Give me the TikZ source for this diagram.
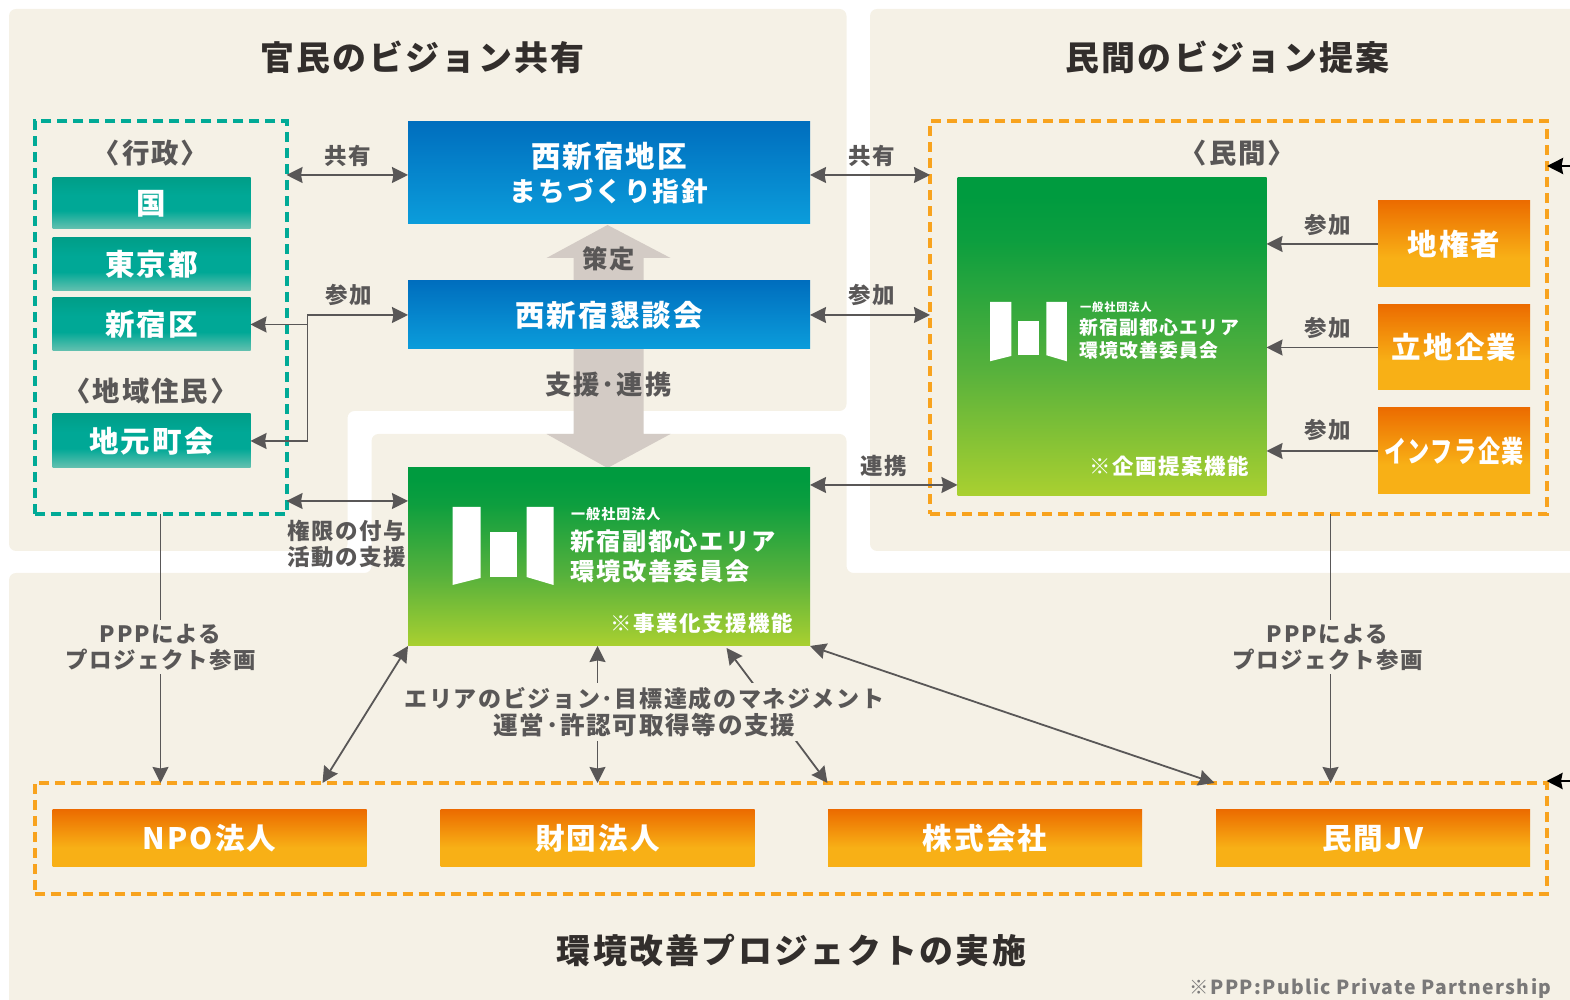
\documentclass[tikz,border=0pt]{standalone}
\usepackage{graphicx}
\usepackage{fontspec}
\setmainfont{Noto Sans CJK JP}[LetterSpace=7]
\usetikzlibrary{arrows.meta}
\definecolor{Fondo}{RGB}{245, 241, 230}
\definecolor{Gris}{RGB}{89, 87, 87}
\definecolor{Tinta}{RGB}{50, 46, 44}
\definecolor{Flecha}{RGB}{211, 203, 197}
\definecolor{TealA}{RGB}{0, 158, 136}
\definecolor{TealB}{RGB}{0, 168, 150}
\definecolor{TealC}{RGB}{102, 193, 176}
\definecolor{BlueA}{RGB}{0, 110, 190}
\definecolor{BlueB}{RGB}{11, 157, 219}
\definecolor{GreenA}{RGB}{0, 155, 63}
\definecolor{GreenB}{RGB}{86, 177, 60}
\definecolor{GreenC}{RGB}{170, 208, 48}
\definecolor{OrangeA}{RGB}{236, 108, 0}
\definecolor{OrangeB}{RGB}{248, 176, 22}
\definecolor{DashTeal}{RGB}{0, 170, 150}
\definecolor{DashOrange}{RGB}{248, 163, 30}
\pgfdeclareverticalshading{tealfade}{100bp}{color(0bp)=(TealC); color(25bp)=(TealC); color(43bp)=(TealB); color(58bp)=(TealB); color(75bp)=(TealA); color(100bp)=(TealA)}
\pgfdeclareverticalshading{bluefade}{100bp}{color(0bp)=(BlueB); color(25bp)=(BlueB); color(75bp)=(BlueA); color(100bp)=(BlueA)}
\pgfdeclareverticalshading{greenfade}{100bp}{color(0bp)=(GreenC); color(25bp)=(GreenC); color(45bp)=(GreenB); color(65bp)=(GreenA!85!GreenB); color(72bp)=(GreenA); color(100bp)=(GreenA)}
\pgfdeclareverticalshading{orangefade}{100bp}{color(0bp)=(OrangeB); color(25bp)=(OrangeB); color(42bp)=(OrangeB); color(75bp)=(OrangeA); color(100bp)=(OrangeA)}
\tikzset{
	>={Stealth[length=0.16cm,width=0.16cm,inset=0.015cm]},
	panel/.style={fill=Fondo,rounded corners=0.07cm},
	caja/.style={inner sep=0,outer sep=0,text=white,align=center,font=\bfseries\fontsize{8.4}{9.8}\selectfont},
	tealbox/.style={caja,shading=tealfade,minimum width=1.98cm},
	bluebox/.style={caja,shading=bluefade,minimum width=4.02cm},
	greenbox/.style={caja,shading=greenfade},
	orangebox/.style={caja,shading=orangefade},
	marco/.style={inner sep=0,outer sep=0,line width=0.04cm,dash pattern=on 0.1cm off 0.06cm},
	midashi/.style={text=Tinta,font=\bfseries\fontsize{9.65}{11}\selectfont},
	setsumei/.style={text=Gris,inner sep=0,align=center,font=\bfseries\fontsize{6.4}{7.4}\selectfont},
	kakko/.style={text=Gris,inner sep=0,font=\bfseries\fontsize{7.8}{9}\selectfont},
	linea/.style={Gris,line width=0.018cm},
	negro/.style={black,line width=0.025cm,->},
	logomark/.pic={
		\fill[white] (0,0) -- (0.28,0) -- (0.28,-0.71) -- (0,-0.78) -- cycle;
		\fill[white] (0.37,-0.25) rectangle (0.64,-0.7);
		\fill[white] (0.74,0) -- (1.01,0) -- (1.01,-0.78) -- (0.74,-0.7) -- cycle;
	}
}
\begin{document}
\begin{tikzpicture}
	\useasboundingbox (-0.005,0.01) rectangle (15.695,-9.99);

	%Paneles de fondo
	\fill[panel] (0.085,-0.08) -- (8.46,-0.08) -- (8.46,-4.1) -- (3.47,-4.1) -- (3.47,-5.5) -- (0.085,-5.5) -- cycle;
	\fill[panel] (8.695,-0.08) -- (15.9,-0.08) -- (15.9,-5.5) -- (8.695,-5.5) -- cycle;
	\fill[panel] (0.085,-5.72) -- (3.71,-5.72) -- (3.71,-4.33) -- (8.46,-4.33) -- (8.46,-5.72) -- (15.9,-5.72) -- (15.9,-10.2) -- (0.085,-10.2) -- cycle;

	%Titulos
	\node[midashi] (tituloA) at (4.22,-0.565) {官民のビジョン共有};
	\node[midashi] (tituloB) at (12.27,-0.565) {民間のビジョン提案};
	\node[midashi] (tituloC) at (7.91,-9.5) {環境改善プロジェクトの実施};
	\node[setsumei,anchor=east,font=\bfseries\fontsize{5.5}{6}\selectfont,text=Gris!80] (nota) at (15.515,-9.875) {※PPP:Public Private Partnership};

	%Marcos punteados
	\node[marco,draw=DashTeal,minimum width=2.52cm,minimum height=3.93cm,anchor=north west] (gyosei) at (0.34,-1.2) {};
	\node[marco,draw=DashOrange,minimum width=6.17cm,minimum height=3.93cm,anchor=north west] (minkan) at (9.295,-1.2) {};
	\node[marco,draw=DashOrange,minimum width=15.12cm,minimum height=1.11cm,anchor=north west] (jisshi) at (0.34,-7.82) {};

	%Flechas grandes
	\fill[Flecha] (5.73,-2.85) -- (5.73,-2.57) -- (5.46,-2.57) -- (6.07,-2.24) -- (6.7,-2.57) -- (6.43,-2.57) -- (6.43,-2.85) -- cycle;
	\fill[Flecha] (5.73,-3.4) -- (5.73,-4.33) -- (5.46,-4.33) -- (6.07,-4.67) -- (6.7,-4.33) -- (6.43,-4.33) -- (6.43,-3.4) -- cycle;
	\node[setsumei,font=\bfseries\fontsize{7.2}{8}\selectfont] (sakutei) at (6.08,-2.58) {策定};
	\node[setsumei,font=\bfseries\fontsize{7.5}{8}\selectfont] (shien) at (6.08,-3.84) {支援･連携};

	%Gyosei
	\node[kakko] (kGyosei) at (1.5,-1.52) {〈行政〉};
	\node[tealbox,minimum height=0.51cm] (kuni) at (1.51,-2.025) {国};
	\node[tealbox,minimum height=0.53cm] (tokyo) at (1.51,-2.635) {東京都};
	\node[tealbox,minimum height=0.53cm] (shinjuku) at (1.51,-3.235) {新宿区};
	\node[kakko] (kJumin) at (1.5,-3.9) {〈地域住民〉};
	\node[tealbox,minimum height=0.54cm] (chimoto) at (1.51,-4.4) {地元町会};

	%Centro
	\node[bluebox,minimum height=1.02cm] (shishin) at (6.085,-1.72) {西新宿地区\\{\fontsize{7.6}{9.8}\selectfont まちづくり指針}};
	\node[bluebox,minimum height=0.68cm] (kondan) at (6.085,-3.14) {西新宿懇談会};
	\node[greenbox,minimum width=4.02cm,minimum height=1.78cm] (kaizen) at (6.085,-5.56) {};
	\pic at (4.52,-5.06) {logomark};
	\node[text=white,inner sep=0,anchor=west,font=\bfseries\fontsize{4}{4.4}\selectfont] (hojinA) at (5.7,-5.13) {一般社団法人};
	\node[text=white,inner sep=0,anchor=west,align=left,font=\bfseries\fontsize{6.9}{8.5}\selectfont] (meiA) at (5.69,-5.555) {新宿副都心エリア\\環境改善委員会};
	\node[text=white,inner sep=0,anchor=east,font=\bfseries\fontsize{6.1}{7}\selectfont] (kinoA) at (7.93,-6.225) {※事業化支援機能};

	%Minkan
	\node[kakko] (kMinkan) at (12.37,-1.52) {〈民間〉};
	\node[greenbox,minimum width=3.09cm,minimum height=3.18cm] (teian) at (11.115,-3.36) {};
	\pic[scale=0.76] at (9.895,-3.01) {logomark};
	\node[text=white,inner sep=0,anchor=west,font=\bfseries\fontsize{3.2}{4}\selectfont] (hojinB) at (10.79,-3.06) {一般社団法人};
	\node[text=white,inner sep=0,anchor=west,align=left,font=\bfseries\fontsize{5.35}{6.5}\selectfont] (meiB) at (10.78,-3.375) {新宿副都心エリア\\環境改善委員会};
	\node[text=white,inner sep=0,anchor=east,font=\bfseries\fontsize{6.1}{7}\selectfont] (kinoB) at (12.49,-4.65) {※企画提案機能};
	\node[orangebox,minimum width=1.52cm,minimum height=0.86cm] (chiken) at (14.535,-2.43) {地権者};
	\node[orangebox,minimum width=1.52cm,minimum height=0.85cm] (ritchi) at (14.535,-3.465) {立地企業};
	\node[orangebox,minimum width=1.52cm,minimum height=0.86cm] (infra) at (14.535,-4.5) {\scalebox{0.75}[1]{インフラ企業}};

	%Cajas inferiores
	\node[orangebox,minimum width=3.14cm,minimum height=0.57cm] (npo) at (2.09,-8.375) {NPO法人};
	\node[orangebox,minimum width=3.14cm,minimum height=0.57cm] (zaidan) at (5.97,-8.375) {財団法人};
	\node[orangebox,minimum width=3.14cm,minimum height=0.57cm] (kabu) at (9.845,-8.375) {株式会社};
	\node[orangebox,minimum width=3.14cm,minimum height=0.57cm] (jv) at (13.725,-8.375) {民間JV};

	%Puntos de conexion
	\coordinate (bunki) at (3.07,-3.6);
	\coordinate (kyoyuP) at (3.4,-1.74);
	\coordinate (kengenP) at (3.4,-5);
	\coordinate (renkeiP) at (8.8,-4.84);
	\coordinate (pppMigi) at (13.3,-6);
	\coordinate (kaizenMid) at (5.97,-6.45);
	\coordinate (kaizenR) at (7.26,-6.47);
	\coordinate (jisshiL) at (3.22,-7.82);
	\coordinate (jisshiR) at (8.27,-7.82);
	\coordinate (jisshiJ) at (12.14,-7.82);
	\coordinate (kuroA) at (15.72,-1.65);
	\coordinate (kuroB) at (15.72,-7.8);

	%Conectores
	\draw[linea,<->] (gyosei.east |- kyoyuP) -- (shishin.west |- kyoyuP);
	\draw[linea,<->] (shishin.east |- kyoyuP) -- (minkan.west |- kyoyuP);
	\draw[linea,<->] (kondan.east) -- (kondan.east -| minkan.west);
	\draw[linea,<->] (chimoto.east) -| (bunki) |- (kondan.west);
	\draw[linea,->] (bunki |- shinjuku.east) -- (shinjuku.east);
	\draw[linea,<->] (gyosei.east |- kengenP) -- (kaizen.west |- kengenP);
	\draw[linea,<->] (kaizen.east |- renkeiP) -- (teian.west |- renkeiP);
	\draw[linea,->] (chiken.west) -- (teian.east |- chiken.west);
	\draw[linea,->] (ritchi.west) -- (teian.east |- ritchi.west);
	\draw[linea,->] (infra.west) -- (teian.east |- infra.west);
	\draw[linea,->] (gyosei.south) -- (gyosei.south |- jisshi.north);
	\draw[linea,->] (pppMigi |- minkan.south) -- (pppMigi |- jisshi.north);
	\draw[linea,<->] (kaizen.south west) -- (jisshiL);
	\draw[linea,<->] (kaizenMid) -- (kaizenMid |- jisshi.north);
	\draw[linea,<->] (kaizenR) -- (jisshiR);
	\draw[linea,<->] (kaizen.south east) -- (jisshiJ);
	\draw[negro] (kuroA) -- (minkan.east |- kuroA);
	\draw[negro] (kuroB) -- (jisshi.east |- kuroB);

	%Textos de conectores
	\node[setsumei] (kyoyuA) at (3.47,-1.55) {共有};
	\node[setsumei] (kyoyuB) at (8.71,-1.55) {共有};
	\node[setsumei] (sankaA) at (3.48,-2.94) {参加};
	\node[setsumei] (sankaB) at (8.71,-2.94) {参加};
	\node[setsumei] (renkei) at (8.83,-4.65) {連携};
	\node[setsumei] (kengen) at (3.46,-5.43) {権限の付与\\活動の支援};
	\node[setsumei] (sankaC) at (13.27,-2.24) {参加};
	\node[setsumei] (sankaD) at (13.27,-3.27) {参加};
	\node[setsumei] (sankaE) at (13.27,-4.29) {参加};
	\node[setsumei,fill=Fondo,inner ysep=0.04cm] (pppA) at (1.6,-6.46) {PPPによる\\プロジェクト参画};
	\node[setsumei,fill=Fondo,inner ysep=0.04cm] (pppB) at (13.27,-6.46) {PPPによる\\プロジェクト参画};
	\node[setsumei,fill=Fondo,inner ysep=0.04cm,font=\bfseries\fontsize{6.55}{7.6}\selectfont] (manage) at (6.44,-7.11) {エリアのビジョン･目標達成のマネジメント\\{\fontsize{7}{7.6}\selectfont 運営･許認可取得等の支援}};
\end{tikzpicture}
\end{document}
